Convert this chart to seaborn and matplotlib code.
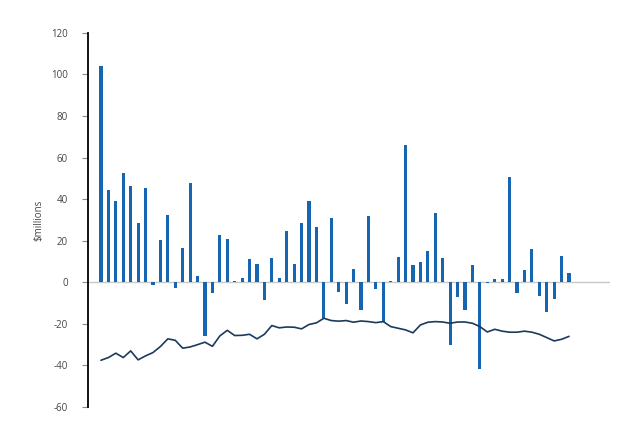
import numpy as np
import pandas as pd
import matplotlib
matplotlib.use('Agg')
import matplotlib.pyplot as plt
import seaborn as sns

# ============================================================
# DATA ($millions)
# ============================================================
bar_values = [
    104, 44.5, 39, 52.5, 46.5, 28.5, 45.5, -1.5, 20.5, 32.5,
    -2.5, 16.5, 48, 3, -26, -5, 23, 21, 0.5, 2,
    11, 9, -8.5, 11.5, 2, 24.5, 9, 28.5, 39, 26.5,
    -17, 31, -4.5, -10.5, 6.5, -13.5, 32, -3, -19, 0.5,
    12, 66, 8.4, 10, 15.3, 33.4, 11.6, -30.4, -7.3, -13.3,
    8.4, -41.5, -0.3, 1.5, 1.5, 50.6, -5.3, 6, 15.8, -6.5,
    -14.1, -7.8, 12.7, 4.5,
]

line_values = [
    -37.5, -36.2, -34.1, -36.2, -33.0, -37.3, -35.4, -33.8, -30.9, -27.2,
    -27.9, -31.7, -31.1, -30.0, -28.8, -30.8, -25.8, -23.1, -25.6, -25.5,
    -25.0, -27.2, -25.0, -20.8, -21.9, -21.5, -21.6, -22.4, -20.3, -19.5,
    -17.3, -18.4, -18.7, -18.4, -19.2, -18.6, -18.9, -19.4, -18.9, -21.3,
    -22.1, -22.9, -24.3, -20.5, -19.2, -18.9, -19.1, -19.7, -19.1, -19.1,
    -19.7, -21.3, -23.9, -22.6, -23.5, -24.0, -24.0, -23.5, -24.0, -25.0,
    -26.6, -28.2, -27.4, -26.0,
]

y_ticks = [-60, -40, -20, 0, 20, 40, 60, 80, 100, 120]

df = pd.DataFrame({
    'period': np.arange(len(bar_values)),
    'value': bar_values,
    'trend': line_values,
})

# ============================================================
# PLOT
# ============================================================
sns.set_style('white')
plt.rcParams['font.family'] = ['Open Sans', 'DejaVu Sans']

fig = plt.figure(figsize=(6.42, 4.33), dpi=100)
ax = fig.add_axes([0.137, 0.060, 0.813, 0.864])

ax.axhline(0, color='#c8c8c8', lw=1.0, zorder=0)

sns.barplot(data=df, x='period', y='value', native_scale=True,
            width=0.42, color='#1565b0', saturation=1, linewidth=0,
            edgecolor='none', ax=ax, zorder=2)
sns.lineplot(data=df, x='period', y='trend', color='#1b3a5c',
             lw=1.2, ax=ax, zorder=3)

ax.set_xlim(-1.75, 68.5)
ax.set_ylim(-60, 120)
ax.set_yticks(y_ticks)
ax.set_yticklabels([str(t) for t in y_ticks], fontsize=7, color='#444444')
ax.set_ylabel('$millions', fontsize=7, color='#444444', labelpad=5)
ax.set_xlabel('')
ax.set_xticks([])

for s in ['top', 'right', 'bottom']:
    ax.spines[s].set_visible(False)
ax.spines['left'].set_color('black')
ax.spines['left'].set_linewidth(1.3)
ax.tick_params(axis='y', direction='out', length=4.3, width=0.8,
               color='#888888', pad=10, left=True)

fig.savefig('out.png', dpi=100)
